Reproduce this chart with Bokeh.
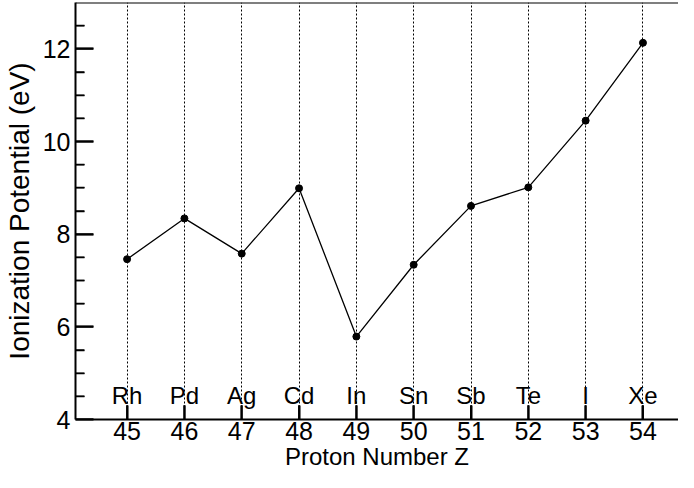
from bokeh.plotting import figure
from bokeh.models import Range1d, FixedTicker, Span, ColumnDataSource, LabelSet, Arrow
from bokeh.core.properties import value
from bokeh.embed import file_html
from bokeh.resources import INLINE

proton_numbers = [45, 46, 47, 48, 49, 50, 51, 52, 53, 54]
elements = ["Rh", "Pd", "Ag", "Cd", "In", "Sn", "Sb", "Te", "I", "Xe"]
ionization_ev = [7.46, 8.34, 7.58, 8.99, 5.79, 7.34, 8.61, 9.01, 10.45, 12.13]
y_ticks_major = [4, 6, 8, 10, 12]
y_ticks_minor = [4.5, 5, 5.5, 6.5, 7, 7.5, 8.5, 9, 9.5, 10.5, 11, 11.5, 12.5]
x_min, x_max = 44.1, 54.62
y_min, y_max = 4, 13

FONT = "Liberation Sans"
W, H, BL, BT = 678, 472, 69, 2

src = ColumnDataSource(data=dict(z=proton_numbers, ip=ionization_ev, el=elements))

p = figure(width=W, height=H, output_backend="svg", toolbar_location=None,
           x_range=Range1d(x_min, x_max), y_range=Range1d(y_min, y_max),
           min_border_left=BL, min_border_right=0, min_border_top=BT, min_border_bottom=0)
p.outline_line_color = None

# grid: dotted vertical lines at each Z
p.xgrid.ticker = FixedTicker(ticks=proton_numbers)
p.xgrid.grid_line_color = "black"
p.xgrid.grid_line_dash = "2 2"
p.ygrid.grid_line_color = None

# x axis
p.xaxis.ticker = FixedTicker(ticks=proton_numbers)
p.xaxis.axis_label = "Proton Number Z"
p.xaxis.major_tick_in = 14
p.xaxis.major_tick_out = 0
p.xaxis.minor_tick_in = 0
p.xaxis.minor_tick_out = 0
p.xaxis.major_label_standoff = 2
p.xaxis.axis_label_standoff = 0

# y axis
p.yaxis.ticker = FixedTicker(ticks=y_ticks_major, minor_ticks=y_ticks_minor)
p.yaxis.axis_label = "Ionization Potential (eV)"
p.yaxis.major_tick_in = 18
p.yaxis.major_tick_out = 0
p.yaxis.minor_tick_in = 9
p.yaxis.minor_tick_out = 0
p.yaxis.minor_tick_line_color = "black"
p.yaxis.minor_tick_line_width = 1.5
p.yaxis.major_label_standoff = 5
p.yaxis.axis_label_standoff = 5

for ax in (p.xaxis, p.yaxis):
    ax.axis_line_width = 2
    ax.axis_line_color = "black"
    ax.major_tick_line_color = "black"
    ax.major_tick_line_width = 2
    ax.major_label_text_font = FONT
    ax.major_label_text_font_size = "25px"
    ax.major_label_text_color = "black"
    ax.axis_label_text_font = FONT
    ax.axis_label_text_font_style = "normal"
    ax.axis_label_text_color = "black"
p.xaxis.axis_label_text_font_size = "24px"
p.yaxis.axis_label_text_font_size = "28px"

# top frame line
p.add_layout(Span(location=y_max, dimension="width", line_color="black", line_width=2))

# element labels
labels = LabelSet(x="z", y=4.33, text="el", source=src, text_align="center",
                  text_baseline="alphabetic", text_font=value(FONT),
                  text_font_size="24px", text_color="black")
p.add_layout(labels)

p.line("z", "ip", source=src, line_color="black", line_width=1.3)
p.scatter("z", "ip", source=src, size=7, fill_color="black", line_color="black")

# inward ticks drawn as head-less arrow annotations (pixel lengths -> data units)
px_x = (x_max - x_min) / (W - BL)
px_y = (y_max - y_min) / (411 - BT)
nx, nM, nm = len(proton_numbers), len(y_ticks_major), len(y_ticks_minor)
xt_src = ColumnDataSource(data=dict(x0=proton_numbers, x1=proton_numbers,
                                    y0=[y_min] * nx, y1=[y_min + 14 * px_y] * nx))
yM_src = ColumnDataSource(data=dict(x0=[x_min] * nM, x1=[x_min + 18 * px_x] * nM,
                                    y0=y_ticks_major, y1=y_ticks_major))
ym_src = ColumnDataSource(data=dict(x0=[x_min] * nm, x1=[x_min + 9 * px_x] * nm,
                                    y0=y_ticks_minor, y1=y_ticks_minor))
for s, lw in ((xt_src, 2), (yM_src, 2), (ym_src, 1.5)):
    p.add_layout(Arrow(end=None, x_start="x0", y_start="y0", x_end="x1", y_end="y1",
                       source=s, line_color="black", line_width=lw))

open("out.html", "w").write(file_html(p, INLINE))
